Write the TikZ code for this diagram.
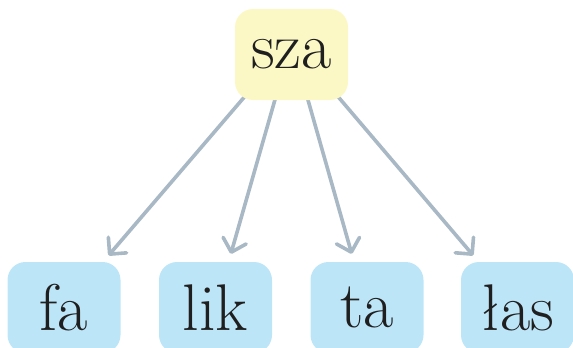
\documentclass[tikz,border=0pt]{standalone}
\usetikzlibrary{arrows.meta,backgrounds}
\definecolor{rootfill}{HTML}{FCF8C6}
\definecolor{leaffill}{HTML}{BDE5F8}
\definecolor{edgecol}{HTML}{A8B8C4}
\begin{document}
\begin{tikzpicture}[x=0.5pt,y=-0.5pt,
  syl/.style={rounded corners=9pt,inner sep=0pt,minimum width=56.5pt,minimum height=45.5pt,
    font=\fontsize{33}{38}\selectfont,text=black!88},
  rootsyl/.style={syl,fill=rootfill},
  leafsyl/.style={syl,fill=leaffill},
  edge/.style={draw=edgecol,line width=1.8pt,line cap=round,
    -{Straight Barb[length=6pt,width=12pt,round]},shorten >=4pt}]
\useasboundingbox (0,0) rectangle (573,348);

\node[rootsyl] (sza) at (291.5,54.5) {sza};
\coordinate (hub) at (291.5,42);

\node[leafsyl] (fa) at (64,307.5) {fa};
\node[leafsyl] (lik) at (215.5,307.5) {lik};
\node[leafsyl] (ta) at (367,307.5) {ta};
\node[leafsyl] (las) at (517.5,307.5) {łas};

\begin{scope}[on background layer]
\foreach \leaf in {fa,lik,ta,las}
  \draw[edge] (hub) -- (\leaf);
\end{scope}

\end{tikzpicture}
\end{document}
